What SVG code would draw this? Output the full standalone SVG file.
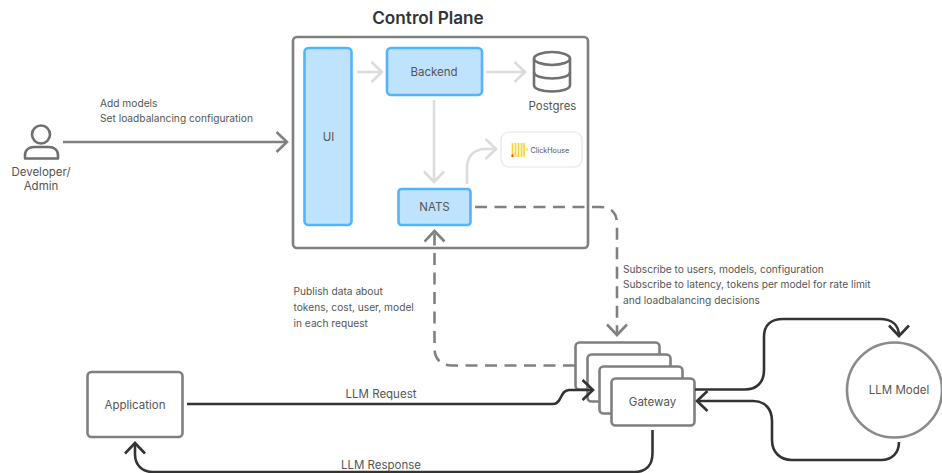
<svg xmlns="http://www.w3.org/2000/svg" width="942" height="473" viewBox="0 0 942 473">
<defs>
<marker id="hL" markerUnits="userSpaceOnUse" markerWidth="16" markerHeight="24" refX="12" refY="11" orient="auto"><path d="M1.500 1L12 11L1.500 21" fill="none" stroke="#dcdcdc" stroke-width="2.600"/></marker>
<marker id="hG" markerUnits="userSpaceOnUse" markerWidth="16" markerHeight="24" refX="12" refY="11" orient="auto"><path d="M1.500 1L12 11L1.500 21" fill="none" stroke="#808080" stroke-width="2.600"/></marker>
<marker id="hD" markerUnits="userSpaceOnUse" markerWidth="16" markerHeight="24" refX="12" refY="11" orient="auto"><path d="M1.500 1L12 11L1.500 21" fill="none" stroke="#333" stroke-width="2.600"/></marker>
</defs>
<style>
text{font-family:Inter,"Liberation Sans",sans-serif;fill:#555;font-size:10.200px}
.c{text-anchor:middle}
.n{font-size:11.500px}
.box{fill:#fff;stroke:#7f7f7f;stroke-width:2.600}
.blue{fill:#c0e3fd;stroke:#52b4fb;stroke-width:2.600}
.l,.g,.d,.k{fill:none;stroke-width:2.600}
.l{stroke:#dcdcdc;marker-end:url(#hL)}
.g{stroke:#808080;marker-end:url(#hG)}
.d{stroke:#808080;stroke-dasharray:12 7.500;marker-end:url(#hG)}
.k{stroke:#333;marker-end:url(#hD)}
</style>
<rect width="942" height="473" fill="#fff"/>
<g id="control-plane">
<rect class="box" x="293" y="37" width="295" height="211" rx="4"/>
<text class="c" x="428" y="24" style="font-size:17.200px;font-weight:600;fill:#333">Control Plane</text>
</g>
<g id="ui"><rect class="blue" x="304.500" y="48" width="47" height="177" rx="4"/><text class="c n" x="328.500" y="141">UI</text></g>
<g id="backend"><rect class="blue" x="387" y="48" width="95" height="47" rx="4"/><text class="c n" x="434" y="76">Backend</text></g>
<g id="nats"><rect class="blue" x="398.500" y="189" width="72" height="36" rx="3"/><text class="c n" x="434.500" y="211">NATS</text></g>
<g id="postgres">
<path d="M534 58.500V85C534 89 542 91.500 552 91.500S570 89 570 85V58.500" fill="none" stroke="#707070" stroke-width="2.600"/>
<ellipse cx="552" cy="58.500" rx="18" ry="6.500" fill="none" stroke="#707070" stroke-width="2.600"/>
<path d="M534 72C534 76 542 78.500 552 78.500S570 76 570 72" fill="none" stroke="#707070" stroke-width="2.600"/>
<text class="c n" x="552.500" y="110">Postgres</text>
</g>
<g id="clickhouse">
<rect x="501" y="132" width="81" height="35" rx="8" fill="#fff" stroke="#e6e6e6" stroke-width="1.200"/>
<path d="M512.500 143V157M515.500 143V157M518.500 143V157M521.500 143V157M524 143V157" stroke="#fbd335" stroke-width="1.700"/>
<rect x="511.500" y="154.500" width="2" height="2.500" fill="#e8503a"/>
<rect x="525.800" y="148.500" width="2" height="2" fill="#fbd335"/>
<text x="530.500" y="152.500" style="font-size:7.200px;fill:#555">ClickHouse</text>
</g>
<g id="developer">
<circle cx="41" cy="134.500" r="9" fill="none" stroke="#6f6f6f" stroke-width="2.600"/>
<path d="M25 158.500V155C25 150 29 147 34 147H49C54 147 58 150 58 155V158.500Z" fill="none" stroke="#6f6f6f" stroke-width="2.600" stroke-linejoin="round"/>
<text class="c n" x="41" y="176">Developer/</text>
<text class="c n" x="41" y="190">Admin</text>
</g>
<g id="application"><rect class="box" x="87.500" y="372" width="95" height="65" rx="4"/><text class="c n" x="135" y="409">Application</text></g>
<g id="gateway">
<rect class="box" x="575.500" y="342.500" width="84" height="47" rx="4"/>
<rect class="box" x="587.500" y="354.500" width="83" height="47" rx="4"/>
<rect class="box" x="599.500" y="366.500" width="83" height="47" rx="4"/>
<rect class="box" x="611.500" y="378.500" width="83" height="47" rx="4"/>
<text class="c n" x="652.500" y="406">Gateway</text>
</g>
<g id="llm-model"><circle cx="894.500" cy="390" r="47.500" fill="#fff" stroke="#8a8a8a" stroke-width="2.600"/><text class="c n" x="899" y="394">LLM Model</text></g>
<g id="connectors">
<path class="l" d="M357 72H382"/>
<path class="l" d="M486 72H525"/>
<path class="l" d="M434 100V182"/>
<path class="l" d="M467 184V168C467 156 474 149 486 149H496"/>
<path class="g" d="M63 142H287"/>
<path class="d" d="M475 207H600C611 207 617 213 617 224V335"/>
<path class="d" d="M575 365.500H452C441 365.500 434.500 359 434.500 348V231"/>
<path class="k" d="M187 404H553C562 404 560 390 569 390H593"/>
<path class="k" d="M695 389.500H745C757 389.500 764 382 764 370V337C764 325 771 319 783 319H880C892 319 899 325 899 336"/>
<path class="k" d="M899 442C899 453 892 460 881 460H792C780 460 772 452 772 440V421C772 409 765 401 753 401H697"/>
<path class="k" d="M652.500 430V453C652.500 465 646 472 634 472H153C142 472 135 465 135 454V443"/>
</g>
<g id="labels">
<text x="100" y="107">Add models</text>
<text x="100" y="122">Set loadbalancing configuration</text>
<text x="293.500" y="295">Publish data about</text>
<text x="293.500" y="311">tokens, cost, user, model</text>
<text x="293.500" y="326.500">in each request</text>
<text x="623" y="272.500">Subscribe to users, models, configuration</text>
<text x="623" y="288">Subscribe to latency, tokens per model for rate limit</text>
<text x="623" y="303.500">and loadbalancing decisions</text>
<text class="c n" x="381" y="397.500">LLM Request</text>
<text class="c n" x="381" y="469">LLM Response</text>
</g>
</svg>
